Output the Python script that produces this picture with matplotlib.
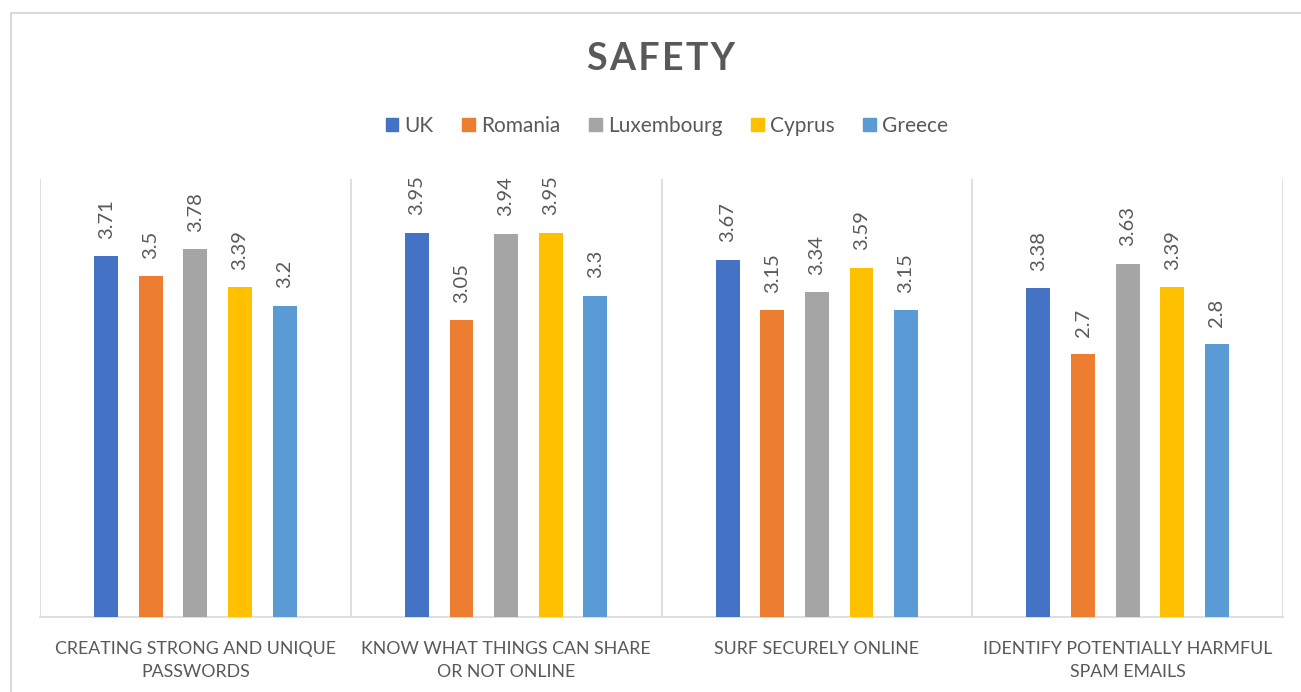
import matplotlib
matplotlib.use("Agg")
import matplotlib.pyplot as plt
import matplotlib.patches as mpatches
import numpy as np

categories = ["CREATING STRONG AND UNIQUE\nPASSWORDS",
              "KNOW WHAT THINGS CAN SHARE\nOR NOT ONLINE",
              "SURF SECURELY ONLINE",
              "IDENTIFY POTENTIALLY HARMFUL\nSPAM EMAILS"]
series_names = ["UK", "Romania", "Luxembourg", "Cyprus", "Greece"]
uk = [3.71, 3.95, 3.67, 3.38]
romania = [3.5, 3.05, 3.15, 2.7]
luxembourg = [3.78, 3.94, 3.34, 3.63]
cyprus = [3.39, 3.95, 3.59, 3.39]
greece = [3.2, 3.3, 3.15, 2.8]
series_values = [uk, romania, luxembourg, cyprus, greece]
colors = ["#4472C4", "#ED7D31", "#A5A5A5", "#FFC000", "#5B9BD5"]

plt.rcParams['font.family'] = ['Lato', 'DejaVu Sans']
txt = "#595959"
grid = "#D9D9D9"

fig = plt.figure(figsize=(13.01, 6.92), dpi=100)
W, H = 1301, 692
ax = fig.add_axes([40 / W, 1 - 617 / H, (1283 - 40) / W, (617 - 179) / H])

x = np.arange(len(categories))
bw = 0.077
pitch = 0.1435
for i, (name, vals, c) in enumerate(zip(series_names, series_values, colors)):
    pos = x + (i - 2) * pitch
    bars = ax.bar(pos, vals, width=bw, color=c, label=name, zorder=3)
    for b, v in zip(bars, vals):
        ax.annotate(f"{v:g}", (b.get_x() + b.get_width() / 2, v),
                    xytext=(0, 12.5), textcoords="offset points",
                    rotation=90, ha="center", va="bottom",
                    fontsize=14.5, color=txt)

ax.set_xlim(-0.5, len(categories) - 0.5)
ax.set_ylim(0, 4.5)
ax.set_yticks([])
for s in ["top", "right", "left"]:
    ax.spines[s].set_visible(False)
ax.spines["bottom"].set_color(grid)
ax.spines["bottom"].set_linewidth(1.2)
for b in np.arange(-0.5, len(categories), 1.0):
    ax.axvline(b, color=grid, lw=1.2, zorder=1)
ax.set_xticks(x)
ax.set_xticklabels(categories, fontsize=12.8, color=txt, linespacing=1.6)
ax.tick_params(axis="x", length=0, pad=17)

title_txt = "\u200a".join("SAFETY")
fig.text(661 / W, 1 - 59 / H, title_txt, ha="center", va="center",
         fontsize=27, fontweight="bold", color=txt)

handles = [mpatches.Patch(color=c, label=n) for n, c in zip(series_names, colors)]
fig.legend(handles=handles, loc="center", bbox_to_anchor=(667 / W, 1 - 126 / H),
           ncol=5, frameon=False, fontsize=15, labelcolor=txt,
           handlelength=0.6, handleheight=0.6, handletextpad=0.3,
           columnspacing=1.38)

fig.add_artist(mpatches.Rectangle((10.5 / W, -0.1), 1.2, 1 - 12.5 / H + 0.1,
                                  transform=fig.transFigure, fill=False,
                                  edgecolor=grid, lw=1.5))

fig.savefig("out.png", dpi=100, facecolor="white")
